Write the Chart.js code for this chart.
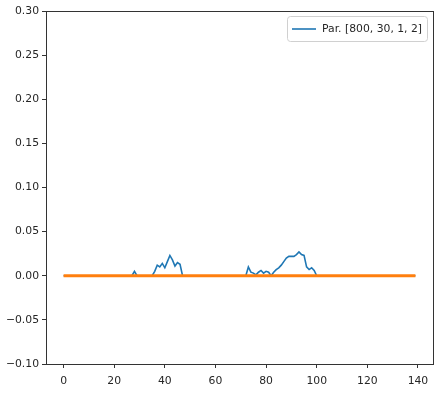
<!DOCTYPE html>
<html>
<head>
<meta charset="utf-8">
<script src="https://cdn.jsdelivr.net/npm/chart.js@4.4.1/dist/chart.umd.min.js"></script>
<style>
html,body{margin:0;padding:0;background:#fff;}
#wrap{width:436px;height:393px;position:relative;}
</style>
</head>
<body>
<div id="wrap"><canvas id="c" width="436" height="393"></canvas></div>
<script>
// ---- data ----
const seriesLabel = "Par. [800, 30, 1, 2]";
const nPoints = 140;
// non-zero blue values (index -> value); everything else is 0
const bumpIndex = [28, 36, 37, 38, 39, 40, 41, 42, 43, 44, 45, 46,
  73, 74, 75, 76, 77, 78, 79, 80, 81, 83, 84, 85, 86, 87, 88, 89, 90, 91, 92, 93, 94, 95, 96, 97, 98, 99];
const bumpValue = [0.005, 0.005, 0.012, 0.010, 0.014, 0.009, 0.016, 0.023, 0.018, 0.011, 0.015, 0.013,
  0.010, 0.004, 0.003, 0.001, 0.004, 0.006, 0.003, 0.005, 0.004, 0.004, 0.007, 0.009, 0.012, 0.016, 0.020, 0.022, 0.022, 0.022, 0.024, 0.027, 0.024, 0.023, 0.010, 0.007, 0.009, 0.006];
const orangeValue = 0.0;
const xTicks = [0, 20, 40, 60, 80, 100, 120, 140];
const yTicks = [-0.10, -0.05, 0.00, 0.05, 0.10, 0.15, 0.20, 0.25, 0.30];

const blueData = [];
const orangeData = [];
for (let i = 0; i < nPoints; i++) {
  const k = bumpIndex.indexOf(i);
  blueData.push({x: i, y: k >= 0 ? bumpValue[k] : 0});
  orangeData.push({x: i, y: orangeValue});
}

const FONT = {family: "'DejaVu Sans'", size: 10.8};
const TXT = '#262626';
const SPINE = '#333333';

const framePlugin = {
  id: 'frame',
  afterDraw(chart) {
    const {ctx, chartArea: a} = chart;
    ctx.save();
    ctx.strokeStyle = SPINE;
    ctx.lineWidth = 1;
    ctx.strokeRect(Math.round(a.left) + 0.5, Math.round(a.top) + 0.5,
      Math.round(a.right - a.left), Math.round(a.bottom - a.top));
    // legend
    const ds = chart.data.datasets[0];
    const bx = 287.5, by = 16.5, bw = 140, bh = 25, r = 3;
    ctx.fillStyle = 'rgba(255,255,255,0.8)';
    ctx.strokeStyle = '#d0d0d0';
    ctx.beginPath();
    ctx.moveTo(bx + r, by);
    ctx.lineTo(bx + bw - r, by);
    ctx.arcTo(bx + bw, by, bx + bw, by + r, r);
    ctx.lineTo(bx + bw, by + bh - r);
    ctx.arcTo(bx + bw, by + bh, bx + bw - r, by + bh, r);
    ctx.lineTo(bx + r, by + bh);
    ctx.arcTo(bx, by + bh, bx, by + bh - r, r);
    ctx.lineTo(bx, by + r);
    ctx.arcTo(bx, by, bx + r, by, r);
    ctx.closePath();
    ctx.fill();
    ctx.stroke();
    ctx.strokeStyle = ds.borderColor;
    ctx.lineWidth = 1.6;
    ctx.beginPath();
    ctx.moveTo(292, 29);
    ctx.lineTo(316, 29);
    ctx.stroke();
    ctx.fillStyle = TXT;
    ctx.font = "10.8px 'DejaVu Sans'";
    ctx.textBaseline = 'middle';
    ctx.fillText(ds.label, 322, 29.5);
    ctx.restore();
  }
};

new Chart(document.getElementById('c'), {
  type: 'line',
  data: {
    datasets: [
      {label: seriesLabel, data: blueData, borderColor: '#1f77b4', borderWidth: 1.6,
        pointRadius: 0, tension: 0, fill: false, order: 2},
      {label: '', data: orangeData, borderColor: '#ff7f0e', borderWidth: 2.8,
        pointRadius: 0, tension: 0, fill: false, order: 1}
    ]
  },
  options: {
    responsive: false,
    animation: false,
    devicePixelRatio: 1,
    layout: {padding: {top: 11, right: 3, left: 0, bottom: 0}},
    plugins: {legend: {display: false}, tooltip: {enabled: false}},
    scales: {
      x: {
        type: 'linear',
        min: -6.95, max: 145.95,
        afterBuildTicks: s => { s.ticks = xTicks.map(v => ({value: v})); },
        afterFit: s => { s.height = 29; },
        border: {display: false},
        grid: {drawOnChartArea: false, drawTicks: true, tickLength: 4, color: SPINE},
        ticks: {font: FONT, color: TXT, padding: 7, maxRotation: 0, callback: v => String(v)}
      },
      y: {
        type: 'linear',
        min: -0.1, max: 0.3,
        afterBuildTicks: s => { s.ticks = yTicks.map(v => ({value: v})); },
        afterFit: s => { s.width = 46; },
        border: {display: false},
        grid: {drawOnChartArea: false, drawTicks: true, tickLength: 4, color: SPINE},
        ticks: {font: FONT, color: TXT, padding: 3,
          callback: v => (v < 0 ? '\u2212' : '') + Math.abs(v).toFixed(2)}
      }
    }
  },
  plugins: [framePlugin]
});
</script>
</body>
</html>
